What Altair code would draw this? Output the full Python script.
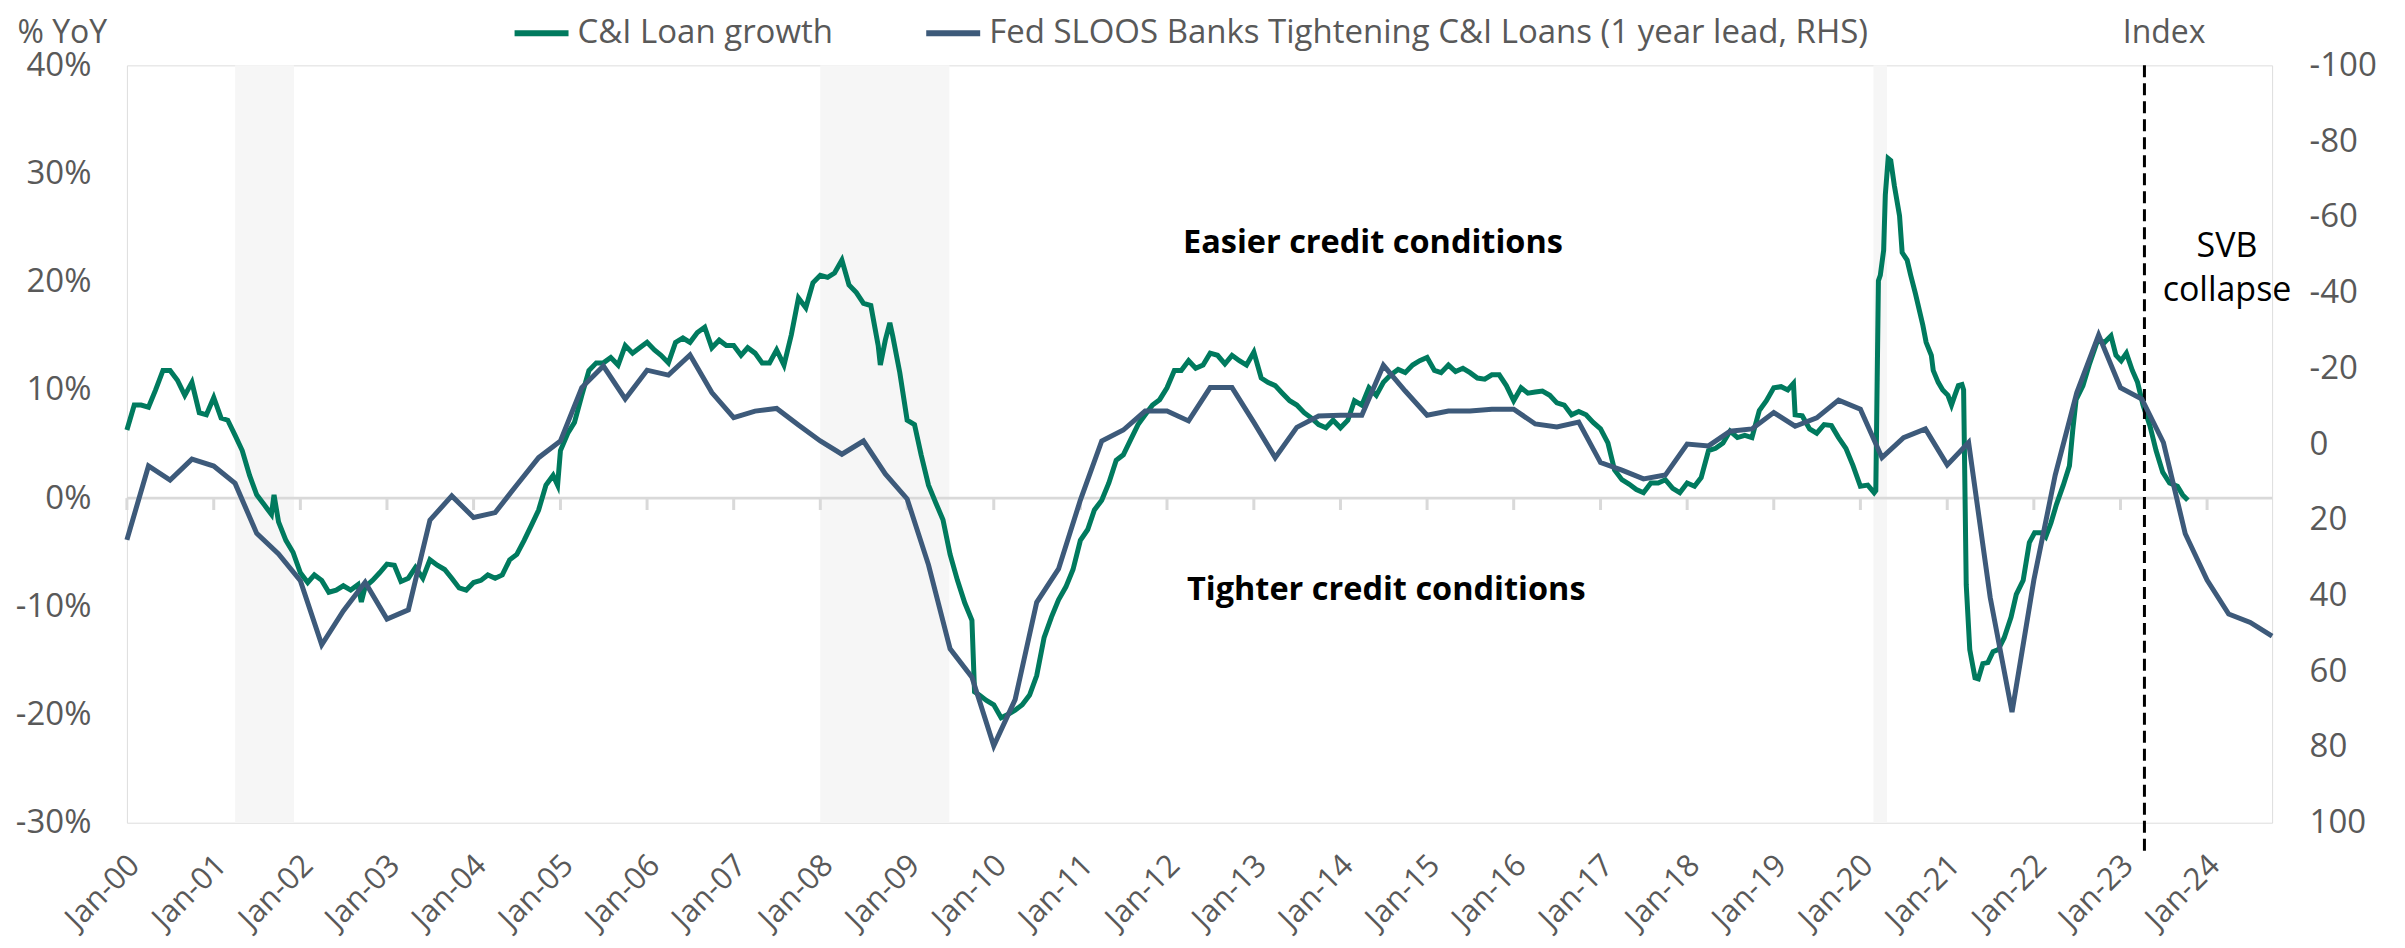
import altair as alt
import pandas as pd

# ---------------- data ----------------
# C&I loan growth, % YoY, monthly readings Jan-2000 .. Feb-2020
g2000 = [6.3, 8.6, 8.6, 8.4, 10.0, 11.8, 11.8, 10.9, 9.5, 10.7, 7.9, 7.7]
g2001 = [9.3, 7.4, 7.2, 5.8, 4.4, 2.1, 0.3, -0.6, -1.5, -2.2, -3.9, -5.0]
g2002 = [-6.9, -7.8, -7.1, -7.6, -8.7, -8.5, -8.1, -8.5, -8.0, -8.2, -7.6, -6.9]
g2003 = [-6.1, -6.2, -7.7, -7.4, -6.4, -7.4, -5.7, -6.2, -6.6, -7.4, -8.3, -8.5]
g2004 = [-7.8, -7.6, -7.1, -7.4, -7.1, -5.7, -5.2, -3.9, -2.5, -1.1, 1.2, 2.1]
g2005 = [4.4, 6.0, 7.0, 9.5, 11.8, 12.5, 12.5, 13.0, 12.3, 14.1, 13.4, 13.9]
g2006 = [14.4, 13.7, 13.2, 12.5, 14.4, 14.8, 14.4, 15.3, 15.8, 13.9, 14.6, 14.1]
g2007 = [14.1, 13.2, 13.9, 13.4, 12.5, 12.5, 13.7, 12.3, 15.1, 18.5, 17.6, 19.9]
g2008 = [20.6, 20.4, 20.8, 22.0, 19.7, 19.0, 18.0, 17.8, 14.1, 14.6, 15.0, 11.6]
g2009 = [7.2, 6.8, 4.0, 1.2, -0.4, -2.0, -5.2, -7.6, -9.7, -11.3, -18.2, -18.7]
g2010 = [-19.1, -20.3, -20.0, -19.6, -19.1, -18.2, -16.4, -12.9, -11.0, -9.4, -8.2, -6.6]
g2011 = [-3.9, -2.9, -1.1, -0.2, 1.4, 3.5, 4.0, 5.4, 6.8, 7.7, 8.6, 9.1]
g2012 = [10.2, 11.8, 11.8, 12.7, 12.0, 12.3, 13.4, 13.2, 12.4, 13.2, 12.7, 12.3]
g2013 = [13.5, 11.1, 10.7, 10.4, 9.7, 9.0, 8.6, 7.9, 7.4, 6.8, 6.5, 7.2]
g2014 = [6.5, 7.2, 9.0, 8.6, 10.2, 9.5, 10.7, 11.4, 11.9, 11.6, 12.3, 12.7]
g2015 = [13.0, 11.8, 11.6, 12.3, 11.7, 12.0, 11.6, 11.1, 11.0, 11.4, 11.4, 10.4]
g2016 = [9.0, 10.2, 9.7, 9.8, 9.9, 9.5, 8.8, 8.6, 7.7, 8.0, 7.7, 7.0]
g2017 = [6.4, 5.1, 2.6, 1.7, 1.3, 0.8, 0.5, 1.4, 1.4, 1.7, 0.9, 0.5]
g2018 = [1.4, 1.1, 1.9, 4.4, 4.6, 5.1, 6.2, 5.6, 5.8, 5.6, 8.1, 9.0]
g2019 = [10.2, 10.3, 10.0, 7.7, 7.6, 6.4, 6.0, 6.8, 6.7, 5.6, 4.6, 3.0]
g2020_start = [1.1, 1.2]

# weekly spikes read between the monthly points
spike_dates = ["2001-09-12", "2002-09-15", "2004-12-20", "2008-09-10", "2008-10-20", "2009-10-12", "2019-03-25"]
spike_vals = [0.3, -9.6, 1.2, 12.3, 16.2, -17.9, 10.6]

# C&I loan growth from the Covid period on (dated readings)
late_dates = [
    "2020-02-28", "2020-03-06", "2020-03-17", "2020-03-25", "2020-04-08", "2020-04-15", "2020-04-27",
    "2020-05-08", "2020-05-23", "2020-06-14", "2020-06-25", "2020-07-16", "2020-07-31", "2020-08-20",
    "2020-09-20", "2020-10-04", "2020-10-26", "2020-11-03", "2020-11-24", "2020-12-13", "2021-01-04",
    "2021-01-19", "2021-02-02", "2021-02-17", "2021-03-04", "2021-03-11", "2021-03-22", "2021-04-06",
    "2021-04-28", "2021-05-12", "2021-05-31", "2021-06-21", "2021-07-13", "2021-08-04", "2021-08-29",
    "2021-09-27", "2021-10-19", "2021-11-17", "2021-12-13", "2022-01-04", "2022-02-02", "2022-02-20",
    "2022-03-14", "2022-04-06", "2022-05-05", "2022-05-31", "2022-06-14", "2022-06-28", "2022-07-27",
    "2022-08-22", "2022-09-27", "2022-10-26", "2022-11-22", "2022-12-13", "2023-01-04", "2023-01-26",
    "2023-02-20", "2023-03-14", "2023-04-06", "2023-05-05", "2023-05-31", "2023-06-28", "2023-07-27",
    "2023-08-29", "2023-09-20", "2023-10-12",
]
late_vals = [
    0.5, 0.7, 20.1, 20.6, 22.9, 28.0, 31.4,
    31.2, 28.9, 26.1, 22.7, 22.0, 20.6, 18.9,
    16.0, 14.4, 13.2, 11.8, 10.7, 10.0, 9.5,
    8.6, 9.5, 10.4, 10.5, 10.0, -8.0, -14.0,
    -16.6, -16.7, -15.3, -15.2, -14.2, -14.0, -12.9,
    -11.0, -8.9, -7.6, -4.1, -3.2, -3.2, -3.6,
    -2.3, -0.6, 1.2, 3.0, 6.3, 9.1, 10.4,
    12.3, 14.6, 14.4, 15.0, 13.2, 12.7, 13.4,
    11.8, 10.7, 8.6, 6.7, 4.4, 2.4, 1.4,
    1.1, 0.3, -0.2,
]

# Fed SLOOS net % tightening C&I loans, 1-year lead, quarterly Jan-2000 .. Oct-2024
b2000 = [25.3, 5.8, 9.5, 4.0]
b2001 = [5.8, 10.4, 23.6, 29.0]
b2002 = [36.1, 53.0, 44.1, 36.5]
b2003 = [46.2, 43.8, 20.1, 13.7]
b2004 = [19.4, 18.1, 10.8, 3.6]
b2005 = [-0.8, -14.9, -20.6, -11.9]
b2006 = [-19.5, -18.2, -23.5, -13.6]
b2007 = [-7.0, -8.7, -9.4, -5.0]
b2008 = [-0.8, 2.7, -0.8, 7.9]
b2009 = [14.5, 31.9, 54.1, 61.6]
b2010 = [79.7, 67.5, 41.8, 33.0]
b2011 = [14.8, -0.8, -3.7, -8.7]
b2012 = [-8.7, -6.1, -14.9, -14.9]
b2013 = [-5.7, 3.6, -4.4, -7.4]
b2014 = [-7.6, -7.6, -20.8, -14.0]
b2015 = [-7.6, -8.7, -8.7, -9.2]
b2016 = [-9.2, -5.3, -4.5, -5.8]
b2017 = [4.9, 6.9, 9.2, 8.2]
b2018 = [0.0, 0.5, -3.4, -4.0]
b2019 = [-8.3, -4.7, -6.9, -11.6]
b2020 = [-9.2, 3.6, -1.7, -4.0]
b2021 = [5.5, -0.4, 40.5, 70.8]
b2022 = [35.9, 8.2, -13.6, -28.8]
b2023 = [-14.9, -11.9, -0.4, 23.7]
b2024 = [35.9, 44.9, 47.1, 50.7]

series_names = ["C&I Loan growth", "Fed SLOOS Banks Tightening C&I Loans (1 year lead, RHS)"]
series_colors = ["#007A5E", "#3D5A7A"]

recession_start = ["2001-04-01", "2008-01-01", "2020-02-25"]
recession_end = ["2001-12-05", "2009-06-28", "2020-04-22"]

tick_years = list(range(2000, 2025))
left_ticks = [-30, -20, -10, 0, 10, 20, 30, 40]
right_ticks = [-100, -80, -60, -40, -20, 0, 20, 40, 60, 80, 100]

svb_date = ["2023-04-12"]
easier_text = "Easier credit conditions"
tighter_text = "Tighter credit conditions"
svb_text = "SVB\ncollapse"

# ---------------- frames ----------------
green_monthly = (g2000 + g2001 + g2002 + g2003 + g2004 + g2005 + g2006 + g2007 + g2008 + g2009
                 + g2010 + g2011 + g2012 + g2013 + g2014 + g2015 + g2016 + g2017 + g2018 + g2019
                 + g2020_start)
g_dates = list(pd.date_range("2000-01-01", periods=len(green_monthly), freq="MS"))
g_dates += list(pd.to_datetime(spike_dates)) + list(pd.to_datetime(late_dates))
g_vals = green_monthly + spike_vals + late_vals
green_df = pd.DataFrame({"date": g_dates, "value": g_vals, "series": series_names[0]}).sort_values("date")

blue_vals = (b2000 + b2001 + b2002 + b2003 + b2004 + b2005 + b2006 + b2007 + b2008 + b2009
             + b2010 + b2011 + b2012 + b2013 + b2014 + b2015 + b2016 + b2017 + b2018 + b2019
             + b2020 + b2021 + b2022 + b2023 + b2024)
blue_df = pd.DataFrame({"date": pd.date_range("2000-01-01", periods=len(blue_vals), freq="QS"),
                        "value": blue_vals, "series": series_names[1]})

shade_df = pd.DataFrame({"start": pd.to_datetime(recession_start), "end": pd.to_datetime(recession_end),
                         "top": 40, "bottom": -30})
tick_df = pd.DataFrame({"date": pd.to_datetime([f"{y}-01-01" for y in tick_years]), "a": 0.0, "b": -1.1})
svb_df = pd.DataFrame({"date": pd.to_datetime(svb_date), "top": 40, "bottom": -33.1})
text_df = pd.DataFrame({
    "date": pd.to_datetime(["2014-05-18"]), "value": [22.7], "label": [easier_text]})
text2_df = pd.DataFrame({
    "date": pd.to_datetime(["2012-03-25"]), "value": [-9.4], "label": [tighter_text]})
svb_text_df = pd.DataFrame({
    "date": pd.to_datetime(["2024-03-25"]), "value": [22.3], "label": [svb_text]})
zero_df = pd.DataFrame({"v": [0.0]})

# ---------------- styling ----------------
FONT = "Open Sans"
GRAY = "#595959"

x_scale = alt.Scale(domain=[alt.DateTime(year=2000, month=1, date=1),
                            alt.DateTime(year=2024, month=10, date=1)])
x_axis = alt.Axis(values=[alt.DateTime(year=y, month=1, date=1) for y in tick_years],
                  format="%b-%y", labelAngle=315, labelAlign="right", labelBaseline="top",
                  labelPadding=27, labelFontSize=31, labelColor=GRAY, labelFont=FONT,
                  ticks=False, domain=False, grid=False, title=None, labelOverlap=False,
                  labelOffset=-3)

yl_scale = alt.Scale(domain=[-30, 40], nice=False, zero=False)
yl_axis = alt.Axis(values=left_ticks, labelExpr="datum.value + '%'", labelFontSize=33,
                   labelColor=GRAY, labelFont=FONT, labelPadding=36, ticks=False, domain=False,
                   grid=False, title="% YoY", titleAngle=0, titleAlign="left",
                   titleBaseline="alphabetic", titleX=-110, titleY=-23, titleFontSize=32,
                   titleFontWeight="normal", titleColor=GRAY, titleFont=FONT)

yr_scale = alt.Scale(domain=[-100, 100], reverse=True, nice=False, zero=False)
yr_axis = alt.Axis(orient="right", values=right_ticks, labelExpr="datum.value + ''",
                   labelFontSize=33, labelColor=GRAY, labelFont=FONT, labelPadding=37,
                   labelAlign="left", ticks=False, domain=False, grid=False, title="Index",
                   titleAngle=0, titleAlign="left", titleBaseline="alphabetic", titleX=-150,
                   titleY=-23, titleFontSize=32, titleFontWeight="normal", titleColor=GRAY,
                   titleFont=FONT)

color_scale = alt.Scale(domain=series_names, range=series_colors)
legend = alt.Legend(orient="none", legendX=385, legendY=-62, direction="horizontal", title=None,
                    symbolType="stroke", symbolSize=2916, symbolStrokeWidth=6,
                    labelFontSize=33, labelColor=GRAY, labelFont=FONT, labelLimit=2000,
                    columnPadding=81, labelOffset=6, padding=0)

X = lambda f: alt.X(f, scale=x_scale, axis=x_axis)
YL = lambda f: alt.Y(f, scale=yl_scale, axis=yl_axis)

shade = alt.Chart(shade_df).mark_rect(color="#f6f6f6").encode(
    x=X("start:T"), x2="end:T", y=YL("top:Q"), y2="bottom:Q")
zero = alt.Chart(zero_df).mark_rule(color="#d9d9d9", strokeWidth=3).encode(y=YL("v:Q"))
ticks = alt.Chart(tick_df).mark_rule(color="#d9d9d9", strokeWidth=3).encode(
    x=X("date:T"), y=YL("a:Q"), y2="b:Q")
green = alt.Chart(green_df).mark_line(strokeWidth=5).encode(
    x=X("date:T"), y=YL("value:Q"),
    color=alt.Color("series:N", scale=color_scale, legend=legend))
svb_line = alt.Chart(svb_df).mark_rule(color="black", strokeWidth=3, strokeDash=[12, 6]).encode(
    x=X("date:T"), y=YL("top:Q"), y2="bottom:Q")
t1 = alt.Chart(text_df).mark_text(font=FONT, fontSize=32.5, fontWeight="bold", color="black",
                                  align="center", baseline="alphabetic").encode(
    x=X("date:T"), y=YL("value:Q"), text="label:N")
t2 = alt.Chart(text2_df).mark_text(font=FONT, fontSize=32.5, fontWeight="bold", color="black",
                                   align="left", baseline="alphabetic").encode(
    x=X("date:T"), y=YL("value:Q"), text="label:N")
t3 = alt.Chart(svb_text_df).mark_text(font=FONT, fontSize=34, color="black", align="center",
                                      baseline="alphabetic", lineBreak="\n", lineHeight=44).encode(
    x=X("date:T"), y=YL("value:Q"), text="label:N")

left = alt.layer(shade, zero, ticks, green, svb_line, t1, t2, t3)

blue = alt.Chart(blue_df).mark_line(strokeWidth=5).encode(
    x=X("date:T"), y=alt.Y("value:Q", scale=yr_scale, axis=yr_axis),
    color=alt.Color("series:N", scale=color_scale, legend=legend))

chart = alt.layer(left, blue).resolve_scale(y="independent").properties(
    width=2147, height=758,
    autosize=alt.AutoSizeParams(type="none"),
    padding={"left": 119, "top": 57, "right": 125, "bottom": 124},
).configure_view(stroke=None).configure(background="white", font=FONT)

chart.save("out.html", embed_options={"renderer": "svg", "actions": False})
